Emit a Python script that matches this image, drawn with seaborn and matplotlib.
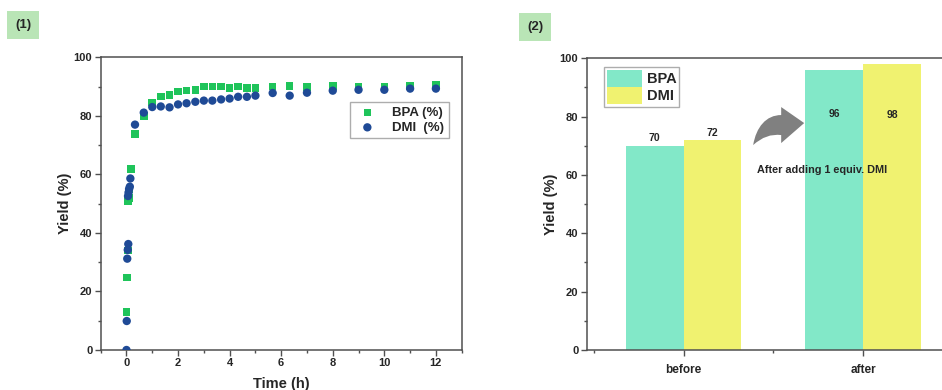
import numpy as np
import pandas as pd
import matplotlib
matplotlib.use("Agg")
import matplotlib.pyplot as plt
import seaborn as sns
from matplotlib.patches import PathPatch
from matplotlib.path import Path
from matplotlib.transforms import Affine2D
from matplotlib.ticker import MultipleLocator

# ---------------- data ----------------
bpa_time = [0, 0.02, 0.05, 0.07, 0.09, 0.12, 0.17, 0.33, 0.67, 1.0, 1.33, 1.67, 2.0, 2.33, 2.67,
            3.0, 3.33, 3.67, 4.0, 4.33, 4.67, 5.0, 5.67, 6.33, 7.0, 8.0, 9.0, 10.0, 11.0, 12.0]
bpa_yield = [13.0, 24.7, 34.0, 50.8, 52.0, 55.0, 61.9, 73.7, 79.9, 84.6, 86.6, 87.1, 88.3, 88.7, 88.9,
             90.0, 90.0, 90.0, 89.5, 90.0, 89.6, 89.6, 90.0, 90.2, 89.8, 90.2, 90.0, 90.0, 90.2, 90.6]
dmi_time = [0, 0.01, 0.03, 0.05, 0.07, 0.06, 0.08, 0.1, 0.13, 0.15, 0.33, 0.67, 1.0, 1.33, 1.67,
            2.0, 2.33, 2.67, 3.0, 3.33, 3.67, 4.0, 4.33, 4.67, 5.0, 5.67, 6.33, 7.0, 8.0, 9.0, 10.0, 11.0, 12.0]
dmi_yield = [0.0, 9.9, 31.2, 34.2, 36.2, 52.6, 53.8, 55.0, 55.8, 58.6, 77.0, 81.1, 83.0, 83.2, 82.9,
             83.9, 84.3, 84.8, 85.2, 85.2, 85.6, 85.9, 86.5, 86.5, 86.9, 87.8, 86.9, 87.9, 88.6, 88.9, 88.9, 89.3, 89.3]

stages = ["before", "after"]
bar_bpa = [70, 96]
bar_dmi = [72, 98]
series_names = ["BPA", "DMI"]

# ---------------- style ----------------
sns.set_theme(style="white")
plt.rcParams["font.family"] = ["Liberation Sans", "DejaVu Sans"]
plt.rcParams["font.weight"] = "bold"

GREEN = "#1fc45a"
BLUE = "#1f4a96"
TEAL = "#82e8c8"
YELLOW = "#f0f270"
SPINE = "#505050"

fig = plt.figure(figsize=(9.42, 3.90), dpi=100)
ax1 = fig.add_axes([0.1069, 0.1026, 0.3832, 0.7505])
ax2 = fig.add_axes([0.6228, 0.1026, 0.3772, 0.7479])

# ---------------- panel 1 ----------------
sns.scatterplot(x=bpa_time, y=bpa_yield, ax=ax1, marker="s", color=GREEN, s=30,
                edgecolor="none", label="BPA (%)", zorder=3)
sns.scatterplot(x=dmi_time, y=dmi_yield, ax=ax1, marker="o", color=BLUE, s=36,
                edgecolor="none", label="DMI  (%)", zorder=4)
ax1.set_xlim(-1, 13)
ax1.set_ylim(0, 100)
ax1.xaxis.set_major_locator(MultipleLocator(2))
ax1.xaxis.set_minor_locator(MultipleLocator(1))
ax1.yaxis.set_major_locator(MultipleLocator(20))
ax1.yaxis.set_minor_locator(MultipleLocator(10))
ax1.set_xlabel("Time (h)", fontsize=10.5, fontweight="bold", labelpad=6)
ax1.set_ylabel("Yield (%)", fontsize=10.5, fontweight="bold", labelpad=1)
leg1 = ax1.legend(loc="upper right", bbox_to_anchor=(0.965, 0.847), frameon=True,
                  fancybox=False, edgecolor="#999999", handletextpad=0.9,
                  prop={"weight": "bold", "size": 9.5},
                  borderpad=0.35, labelspacing=0.2, borderaxespad=0)
leg1.get_frame().set_linewidth(1.0)

# ---------------- panel 2 ----------------
df = pd.DataFrame({
    "stage": stages * 2,
    "series": [series_names[0]] * 2 + [series_names[1]] * 2,
    "value": bar_bpa + bar_dmi,
})
sns.barplot(data=df, x="stage", y="value", hue="series", order=stages,
            hue_order=series_names, palette=[TEAL, YELLOW], width=0.645,
            saturation=1, ax=ax2, edgecolor="none", linewidth=0)
ax2.set_xlim(-0.54, 1.44)
ax2.set_ylim(0, 100)
ax2.yaxis.set_major_locator(MultipleLocator(20))
ax2.yaxis.set_minor_locator(MultipleLocator(10))
ax2.xaxis.set_minor_locator(MultipleLocator(0.5))
ax2.set_xlabel("")
ax2.set_ylabel("Yield (%)", fontsize=10.5, fontweight="bold", labelpad=1)

# value labels
off = 0.645 / 4
for i, (vb, vd) in enumerate(zip(bar_bpa, bar_dmi)):
    if i == 0:
        ax2.text(i - off, vb + 0.8, f"{vb}", ha="center", va="bottom", fontsize=7.5, fontweight="bold")
        ax2.text(i + off, vd + 0.8, f"{vd}", ha="center", va="bottom", fontsize=7.5, fontweight="bold")
    else:
        ax2.text(i - off, vb - 15, f"{vb}", ha="center", va="center", fontsize=7.5, fontweight="bold")
        ax2.text(i + off, vd - 17.5, f"{vd}", ha="center", va="center", fontsize=7.5, fontweight="bold")

ax2.text(0.41, 61.7, "After adding 1 equiv. DMI", ha="left", va="center",
         fontsize=7.8, fontweight="bold", zorder=5)

# curved gray arrow (decoration), shape given in pixel offsets relative to its tip
verts = [(-23, 16), (0, 0), (-23, -20), (-23, -12),
         (-38, -10), (-51, -22),
         (-48, -4), (-38, 8), (-23, 8),
         (-23, 16)]
codes = [Path.MOVETO, Path.LINETO, Path.LINETO, Path.LINETO,
         Path.CURVE3, Path.CURVE3,
         Path.CURVE4, Path.CURVE4, Path.CURVE4,
         Path.CLOSEPOLY]
tip = ax2.transData.transform((0.672, 77.8))
arrow_tr = Affine2D().scale(fig.dpi / 100).translate(tip[0], tip[1])
ax2.add_patch(PathPatch(Path(verts, codes), facecolor="#808080", edgecolor="none",
                        transform=arrow_tr, zorder=5, clip_on=False))

leg2 = ax2.legend(loc="upper left", bbox_to_anchor=(0.05, 0.97), frameon=True, fancybox=False,
                  edgecolor="#999999", prop={"weight": "bold", "size": 10.5},
                  handlelength=2.4, handleheight=1.4,
                  labelspacing=0.0, handletextpad=0.3, borderpad=0.2, borderaxespad=0)
leg2.get_frame().set_linewidth(1.0)

# ---------------- common axes styling ----------------
for ax in (ax1, ax2):
    for side in ("left", "bottom", "top", "right"):
        ax.spines[side].set_color(SPINE)
        ax.spines[side].set_linewidth(1.1)
    ax.tick_params(which="both", direction="out", left=True, bottom=True, top=False, right=False,
                   color=SPINE, width=1.0)
    ax.tick_params(which="major", length=4, labelsize=8, pad=2)
    ax.tick_params(which="minor", length=2.5)
    for lab in ax.get_xticklabels() + ax.get_yticklabels():
        lab.set_fontweight("bold")
ax2.spines["right"].set_visible(False)
ax2.tick_params(axis="x", which="major", labelsize=8.5, pad=6)

# panel labels
box = dict(boxstyle="square,pad=0.6", facecolor="#b9e5b6", edgecolor="none")
fig.text(23 / 942, 1 - 25 / 390, "(1)", ha="center", va="center", fontsize=9.5,
         fontweight="bold", bbox=box)
fig.text(535 / 942, 1 - 27 / 390, "(2)", ha="center", va="center", fontsize=9.5,
         fontweight="bold", bbox=box)

fig.savefig("out.png", dpi=100)
